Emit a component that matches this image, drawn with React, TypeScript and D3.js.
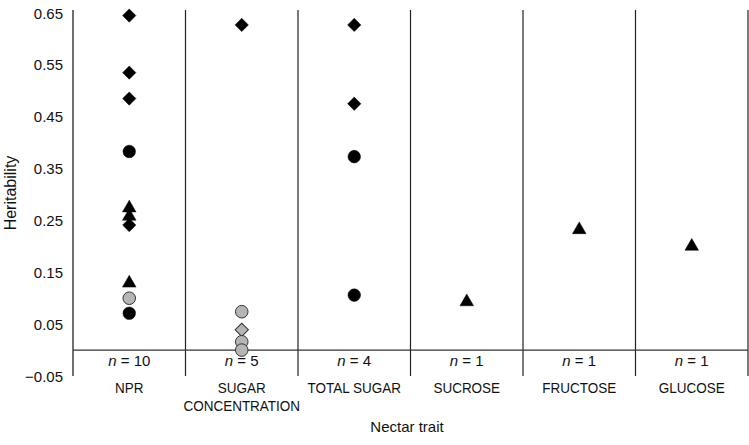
import React from "react";
import * as d3 from "d3";

const categories = ["NPR", "SUGAR CONCENTRATION", "TOTAL SUGAR", "SUCROSE", "FRUCTOSE", "GLUCOSE"];
const categoryLines = [["NPR"], ["SUGAR", "CONCENTRATION"], ["TOTAL SUGAR"], ["SUCROSE"], ["FRUCTOSE"], ["GLUCOSE"]];
const nCounts = [10, 5, 4, 1, 1, 1];
const yTicks = [0.65, 0.55, 0.45, 0.35, 0.25, 0.15, 0.05, -0.05];

// each point: category index, heritability, marker shape, grey fill
const pointCategory = [0, 0, 0, 0, 0, 0, 0, 0, 0, 0, 1, 1, 1, 1, 1, 2, 2, 2, 2, 3, 4, 5];
const pointValue = [0.645, 0.535, 0.485, 0.383, 0.274, 0.258, 0.241, 0.129, 0.1, 0.071,
  0.627, 0.074, 0.039, 0.016, 0.0,
  0.627, 0.475, 0.373, 0.106,
  0.093, 0.232, 0.2];
const pointShape = ["diamond", "diamond", "diamond", "circle", "triangle", "triangle", "diamond", "triangle", "circle", "circle",
  "diamond", "circle", "diamond", "circle", "circle",
  "diamond", "diamond", "circle", "circle",
  "triangle", "triangle", "triangle"];
const pointGrey = [false, false, false, false, false, false, false, false, true, false,
  false, true, true, true, true,
  false, false, false, false,
  false, false, false];

const W = 749;
const H = 445;
const FONT = "'Liberation Sans', Arial, Helvetica, sans-serif";

export default function App() {
  const x = d3.scaleBand<string>().domain(categories).range([73, 748]).padding(0);
  const y = d3.scaleLinear().domain([-0.05, 0.65]).range([376, 13]);
  const axisTop = 10;
  const axisBottom = y(-0.05);

  const symbols: Record<string, string> = {
    diamond: d3.symbol().type(d3.symbolSquare).size(88)() as string,
    circle: d3.symbol().type(d3.symbolCircle).size(124)() as string,
    triangle: d3.symbol().type(d3.symbolTriangle).size(80)() as string,
  };

  const boundaries = categories.map((c) => (x(c) as number) + x.bandwidth());

  return (
    <svg width={W} height={H} style={{ position: "absolute", left: 0, top: 0, background: "#fff" }} fontFamily={FONT}>
      <rect x={0} y={0} width={W} height={H} fill="#fff" />
      <line x1={73} x2={73} y1={axisTop} y2={axisBottom} stroke="#111" strokeWidth={1.2} />
      {boundaries.map((bx, i) => (
        <line key={i} x1={bx} x2={bx} y1={axisTop} y2={axisBottom} stroke="#222" strokeWidth={1.2} />
      ))}
      <line x1={73} x2={748} y1={y(0)} y2={y(0)} stroke="#333" strokeWidth={1.2} />
      {yTicks.map((t) => (
        <text key={t} x={63} y={y(t)} textAnchor="end" dominantBaseline="central" fontSize={15} fill="#111">
          {t < 0 ? "\u2212" + Math.abs(t).toFixed(2) : t.toFixed(2)}
        </text>
      ))}
      <text transform={`translate(10,193) rotate(-90)`} textAnchor="middle" dominantBaseline="central" fontSize={16} fill="#111">
        Heritability
      </text>
      {categories.map((c, i) => {
        const cx = (x(c) as number) + x.bandwidth() / 2;
        return (
          <g key={c}>
            <text x={cx} y={366} textAnchor="middle" fontSize={15} fill="#111">
              <tspan fontStyle="italic">n</tspan>
              {" = " + nCounts[i]}
            </text>
            {categoryLines[i].map((ln, j) => (
              <text
                key={j}
                transform={`translate(${cx},${393 + j * 18}) scale(0.9,1)`}
                textAnchor="middle"
                fontSize={15}
                fill="#111"
              >
                {ln}
              </text>
            ))}
          </g>
        );
      })}
      <text x={407} y={432} textAnchor="middle" fontSize={15} fill="#111">
        Nectar trait
      </text>
      {pointValue.map((v, i) => {
        const c = categories[pointCategory[i]];
        const cx = (x(c) as number) + x.bandwidth() / 2;
        const cy = y(v);
        const rot = pointShape[i] === "diamond" ? " rotate(45)" : "";
        return (
          <path
            key={i}
            d={symbols[pointShape[i]]}
            transform={`translate(${cx},${cy})${rot}`}
            fill={pointGrey[i] ? "#b5b5b5" : "#000"}
            stroke={pointGrey[i] ? "#333" : "#000"}
            strokeWidth={pointGrey[i] ? 1 : 0.5}
          />
        );
      })}
    </svg>
  );
}
